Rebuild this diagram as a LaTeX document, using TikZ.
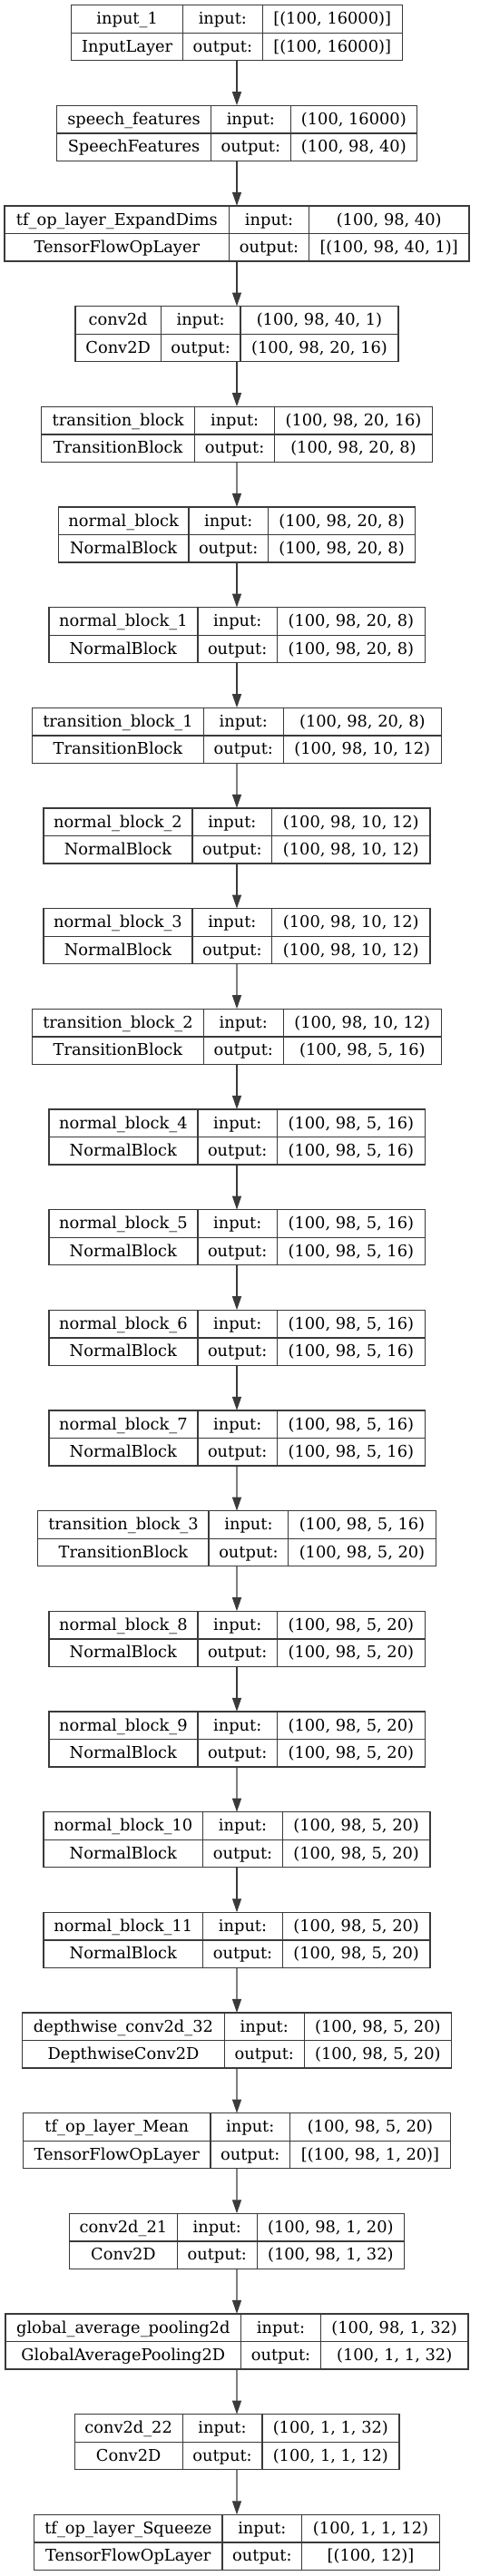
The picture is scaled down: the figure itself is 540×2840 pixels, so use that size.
\documentclass[tikz,border=0pt]{standalone}
\usepackage{fontspec}
\setmainfont{DejaVu Serif}
\usetikzlibrary{arrows.meta,fit,positioning}
\definecolor{Ink}{HTML}{3A3A3A}

\newcommand\layerfont{\fontsize{17.8}{20}\selectfont}

\tikzset{
  cell/.style={draw=Ink, line width=1.3pt, inner sep=0pt, outer sep=0pt,
    minimum height=30.5pt, anchor=north west, font=\layerfont,
    text height=14pt, text depth=2.5pt},
  edge/.style={draw=Ink, line width=1.3pt, -{Triangle[length=15pt,width=10pt]}},
}

% one layer record: id, name, class, input shape, output shape, row,
% width of the name column, width of the shape column
\newcommand\kerasblock[8]{%
  \pgfmathsetmacro\lx{261-(#7+87.7+#8)/2}%
  \pgfmathsetmacro\ty{5.7+110.67*#6}%
  \node[cell, minimum width=#7pt] (#1-n) at (\lx,\ty) {#2};
  \node[cell, minimum width=#7pt] (#1-c) at (#1-n.south west) {#3};
  \node[cell, minimum width=87.7pt] (#1-il) at (#1-n.north east) {input:};
  \node[cell, minimum width=87.7pt] (#1-ol) at (#1-il.south west) {output:};
  \node[cell, minimum width=#8pt] (#1-iv) at (#1-il.north east) {#4};
  \node[cell, minimum width=#8pt] (#1-ov) at (#1-iv.south west) {#5};
  \node[fit=(#1-n)(#1-ov), inner sep=0pt] (#1) {};
}

\begin{document}
\begin{tikzpicture}[x=1pt,y=-1pt]
  \useasboundingbox (0,0) rectangle (540,2840);

  \kerasblock{b0}{input\_1}{InputLayer}{[(100, 16000)]}{[(100, 16000)]}{0}{122.7}{154}
  \kerasblock{b1}{speech\_features}{SpeechFeatures}{(100, 16000)}{(100, 98, 40)}{1}{170}{139.3}
  \kerasblock{b2}{tf\_op\_layer\_ExpandDims}{TensorFlowOpLayer}{(100, 98, 40)}{[(100, 98, 40, 1)]}{2}{247.7}{176.6}
  \kerasblock{b3}{conv2d}{Conv2D}{(100, 98, 40, 1)}{(100, 98, 20, 16)}{3}{94.3}{174}
  \kerasblock{b4}{transition\_block}{TransitionBlock}{(100, 98, 20, 16)}{(100, 98, 20, 8)}{4}{169.3}{174}
  \kerasblock{b5}{normal\_block}{NormalBlock}{(100, 98, 20, 8)}{(100, 98, 20, 8)}{5}{143.4}{162}
  \kerasblock{b6}{normal\_block\_1}{NormalBlock}{(100, 98, 20, 8)}{(100, 98, 20, 8)}{6}{164}{162.6}
  \kerasblock{b7}{transition\_block\_1}{TransitionBlock}{(100, 98, 20, 8)}{(100, 98, 10, 12)}{7}{189}{174.4}
  \kerasblock{b8}{normal\_block\_2}{NormalBlock}{(100, 98, 10, 12)}{(100, 98, 10, 12)}{8}{164}{174.3}
  \kerasblock{b9}{normal\_block\_3}{NormalBlock}{(100, 98, 10, 12)}{(100, 98, 10, 12)}{9}{164}{174.3}
  \kerasblock{b10}{transition\_block\_2}{TransitionBlock}{(100, 98, 10, 12)}{(100, 98, 5, 16)}{10}{189}{174.4}
  \kerasblock{b11}{normal\_block\_4}{NormalBlock}{(100, 98, 5, 16)}{(100, 98, 5, 16)}{11}{164}{162.6}
  \kerasblock{b12}{normal\_block\_5}{NormalBlock}{(100, 98, 5, 16)}{(100, 98, 5, 16)}{12}{164}{162.6}
  \kerasblock{b13}{normal\_block\_6}{NormalBlock}{(100, 98, 5, 16)}{(100, 98, 5, 16)}{13}{164}{162.6}
  \kerasblock{b14}{normal\_block\_7}{NormalBlock}{(100, 98, 5, 16)}{(100, 98, 5, 16)}{14}{164}{162.6}
  \kerasblock{b15}{transition\_block\_3}{TransitionBlock}{(100, 98, 5, 16)}{(100, 98, 5, 20)}{15}{188.3}{162.4}
  \kerasblock{b16}{normal\_block\_8}{NormalBlock}{(100, 98, 5, 20)}{(100, 98, 5, 20)}{16}{164}{162.6}
  \kerasblock{b17}{normal\_block\_9}{NormalBlock}{(100, 98, 5, 20)}{(100, 98, 5, 20)}{17}{164}{162.6}
  \kerasblock{b18}{normal\_block\_10}{NormalBlock}{(100, 98, 5, 20)}{(100, 98, 5, 20)}{18}{175.7}{162.6}
  \kerasblock{b19}{normal\_block\_11}{NormalBlock}{(100, 98, 5, 20)}{(100, 98, 5, 20)}{19}{175.7}{162.6}
  \kerasblock{b20}{depthwise\_conv2d\_32}{DepthwiseConv2D}{(100, 98, 5, 20)}{(100, 98, 5, 20)}{20}{223}{162.4}
  \kerasblock{b21}{tf\_op\_layer\_Mean}{TensorFlowOpLayer}{(100, 98, 5, 20)}{[(100, 98, 1, 20)]}{21}{206.3}{176.7}
  \kerasblock{b22}{conv2d\_21}{Conv2D}{(100, 98, 1, 20)}{(100, 98, 1, 32)}{22}{119}{162.4}
  \kerasblock{b23}{global\_average\_pooling2d}{GlobalAveragePooling2D}{(100, 98, 1, 32)}{(100, 1, 1, 32)}{23}{259.7}{162.7}
  \kerasblock{b24}{conv2d\_22}{Conv2D}{(100, 1, 1, 32)}{(100, 1, 1, 12)}{24}{119}{151}
  \kerasblock{b25}{tf\_op\_layer\_Squeeze}{TensorFlowOpLayer}{(100, 1, 1, 12)}{[(100, 12)]}{25}{207.4}{151.7}

  \foreach \i [evaluate=\i as \j using int(\i+1)] in {0,...,24}
    \draw[edge] (b\i.south) -- (b\j.north);
\end{tikzpicture}
\end{document}
